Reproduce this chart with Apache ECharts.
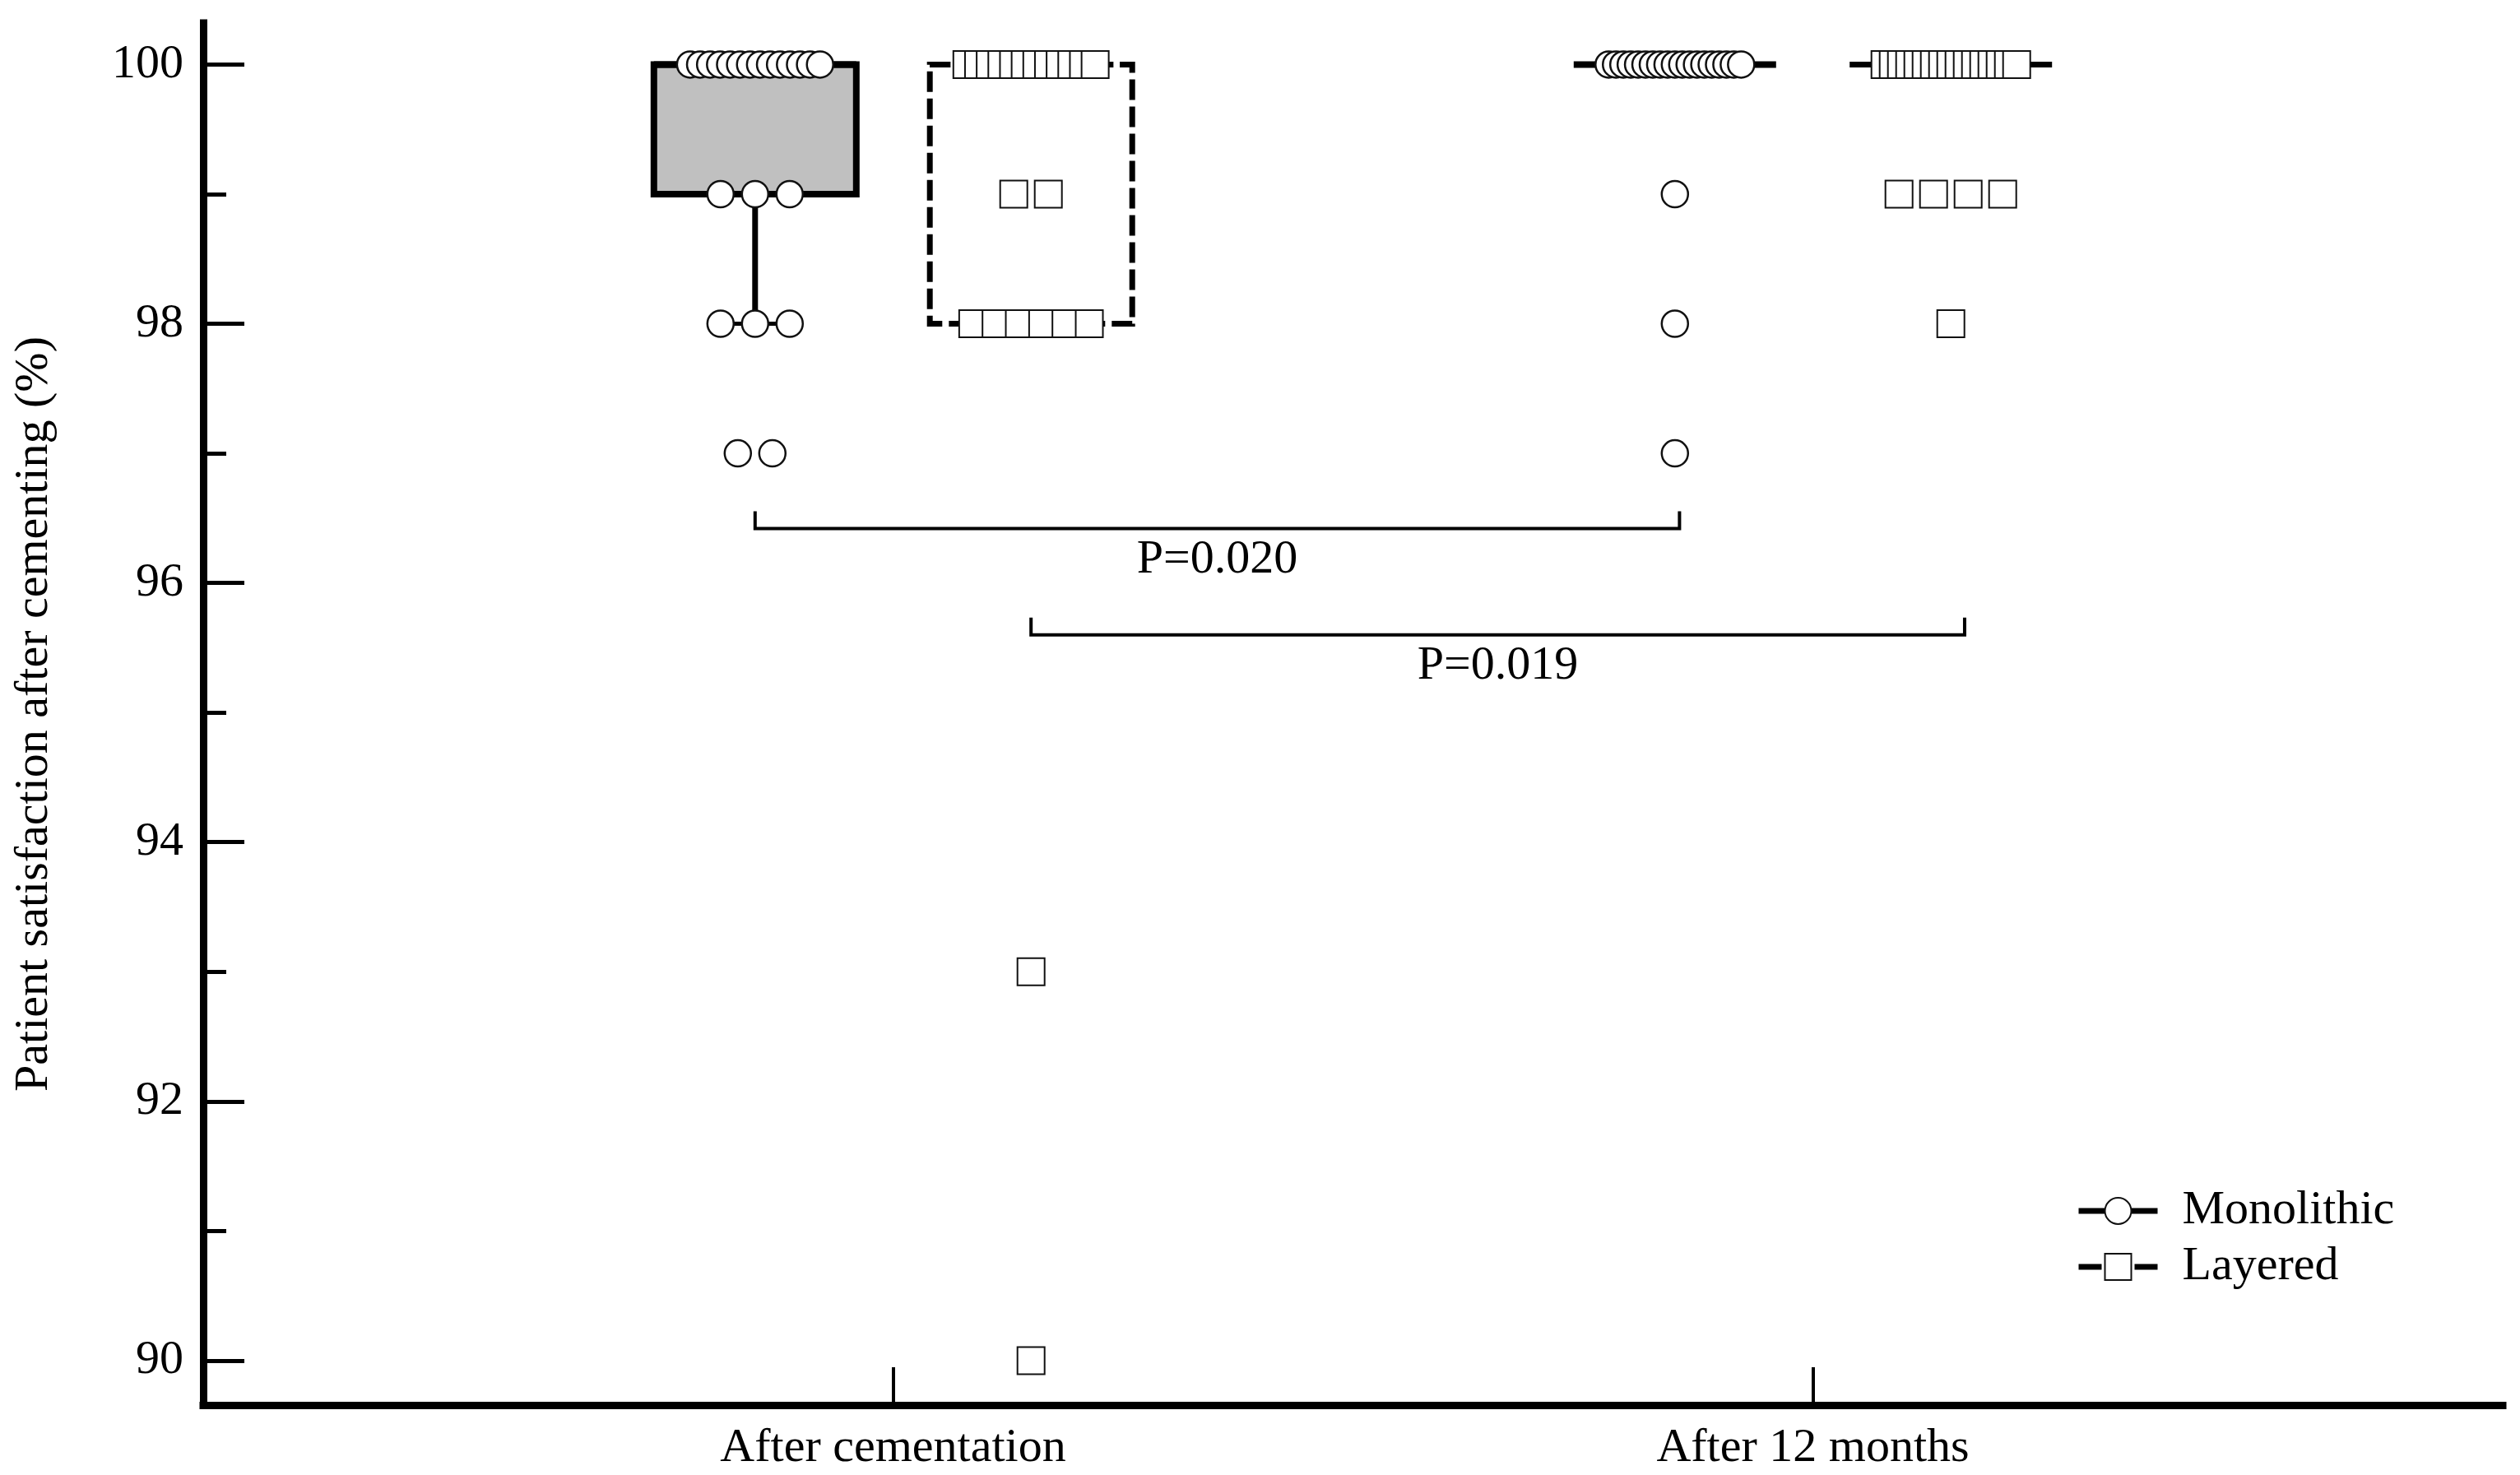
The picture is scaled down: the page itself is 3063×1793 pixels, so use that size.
<!DOCTYPE html>
<html>
<head>
<meta charset="utf-8">
<script src="https://cdn.jsdelivr.net/npm/echarts@6/dist/echarts.min.js"></script>
<style>
html, body { margin: 0; padding: 0; background: #fff; }
#chart { width: 3063px; height: 1793px; }
</style>
</head>
<body>
<div id="chart"></div>
<script>
var timePoints = ['After cementation', 'After 12 months'];
var groupNames = ['Monolithic', 'Layered'];
var groupOffset = [-0.15, 0.15];

// [lower whisker, Q1, median, Q3, upper whisker] for each time point
var monolithicBox = [[98, 99, 100, 100, 100], [100, 100, 100, 100, 100]];
var layeredBox = [[98, 98, 100, 100, 100], [100, 100, 100, 100, 100]];

// individual scores (value, number of patients with that value)
var monoCemScores = [100, 99, 98, 97];
var monoCemCounts = [14, 3, 3, 2];
var monoYearScores = [100, 99, 98, 97];
var monoYearCounts = [19, 1, 1, 1];
var layerCemScores = [100, 99, 98, 93, 90];
var layerCemCounts = [12, 2, 6, 1, 1];
var layerYearScores = [100, 99, 98];
var layerYearCounts = [17, 4, 1];

var yTicks = [90, 92, 94, 96, 98, 100];
var yMinorTicks = [91, 93, 95, 97, 99];

// significance brackets
var pLabels = ['P=0.020', 'P=0.019'];
var pLevels = [96.42, 95.6];
var pStart = [0.85, 1.15];
var pEnd = [1.855, 2.165];

var FONT = 'Liberation Serif';

// spread equal scores side by side (beeswarm-like)
function swarm(t, g, scores, counts) {
  var out = [];
  scores.forEach(function (s, k) {
    var n = counts[k];
    var step = Math.min(42, 170 / n);
    for (var i = 0; i < n; i++) {
      out.push({
        value: [t + 1 + groupOffset[g], s],
        symbolOffset: [(i - (n - 1) / 2) * step, 0]
      });
    }
  });
  return out;
}

function boxSeries(boxes, g, width, dashed, fill) {
  var dash = dashed ? [25, 8] : null;
  return {
    type: 'custom',
    name: groupNames[g] + ' box',
    z: 2,
    encode: { x: 0, y: [1, 2, 3, 4, 5] },
    data: boxes.map(function (b, t) { return [t + 1 + groupOffset[g]].concat(b); }),
    renderItem: function (params, api) {
      var x = api.value(0);
      var low = api.coord([x, api.value(1)]);
      var q1 = api.coord([x, api.value(2)]);
      var med = api.coord([x, api.value(3)]);
      var q3 = api.coord([x, api.value(4)]);
      var high = api.coord([x, api.value(5)]);
      var half = 123, cap = 42;
      var hasBox = q1[1] - q3[1] > 1;
      var kids = [];
      if (low[1] - q1[1] > 1) {
        kids.push({ type: 'line', shape: { x1: q1[0], y1: q1[1], x2: q1[0], y2: low[1] }, style: { stroke: '#000', lineWidth: 7 } });
        kids.push({ type: 'line', shape: { x1: low[0] - cap, y1: low[1], x2: low[0] + cap, y2: low[1] }, style: { stroke: '#000', lineWidth: 5 } });
      }
      if (q3[1] - high[1] > 1) {
        kids.push({ type: 'line', shape: { x1: q3[0], y1: q3[1], x2: q3[0], y2: high[1] }, style: { stroke: '#000', lineWidth: 7 } });
        kids.push({ type: 'line', shape: { x1: high[0] - cap, y1: high[1], x2: high[0] + cap, y2: high[1] }, style: { stroke: '#000', lineWidth: 5 } });
      }
      if (hasBox) {
        kids.push({ type: 'rect', shape: { x: q1[0] - half, y: q3[1], width: half * 2, height: q1[1] - q3[1] },
          style: { fill: fill, stroke: '#000', lineWidth: width, lineDash: dash } });
      }
      kids.push({ type: 'line', shape: { x1: med[0] - half, y1: med[1], x2: med[0] + half, y2: med[1] },
        style: { stroke: '#000', lineWidth: width, lineDash: hasBox ? dash : null } });
      return { type: 'group', children: kids };
    }
  };
}

function pointSeries(name, symbol, size, border, data) {
  return {
    type: 'scatter',
    name: name,
    z: 5,
    symbol: symbol,
    symbolSize: size,
    itemStyle: { color: '#fff', borderColor: '#111', borderWidth: border, opacity: 1 },
    data: data
  };
}

var chart = echarts.init(document.getElementById('chart'));

var option = {
  animation: false,
  backgroundColor: '#fff',
  grid: { left: 247, right: 21, top: 28, bottom: 85, containLabel: false },
  legend: {
    orient: 'vertical',
    left: 2518,
    top: 1438,
    itemWidth: 96,
    itemHeight: 40,
    itemGap: 10,
    selectedMode: false,
    data: [
      { name: groupNames[0], lineStyle: { color: '#000', width: 7, type: 'solid' } },
      { name: groupNames[1], lineStyle: { color: '#000', width: 7, type: [28, 40] } }
    ],
    textStyle: { fontFamily: FONT, fontSize: 58, color: '#000', lineHeight: 58, padding: [0, 0, 0, 25] }
  },
  xAxis: {
    type: 'value',
    min: 0.25,
    max: 2.75,
    splitLine: { show: false },
    axisLine: { show: true, onZero: false, lineStyle: { color: '#000', width: 9, cap: 'square' } },
    axisTick: { show: true, inside: true, length: 46, customValues: [1, 2], lineStyle: { color: '#000', width: 4 } },
    axisLabel: {
      customValues: [1, 2],
      formatter: function (v) { return timePoints[Math.round(v) - 1]; },
      fontFamily: FONT, fontSize: 58, color: '#000', margin: 24
    }
  },
  yAxis: [{
    type: 'value',
    min: 89.657,
    max: 100.32,
    name: 'Patient satisfaction after cementing (%)',
    nameLocation: 'middle',
    nameGap: 176,
    nameTextStyle: { fontFamily: FONT, fontSize: 58, color: '#000' },
    splitLine: { show: false },
    axisLine: { show: true, onZero: false, lineStyle: { color: '#000', width: 9, cap: 'square' } },
    axisTick: { show: true, inside: true, length: 50, customValues: yTicks, lineStyle: { color: '#000', width: 5 } },
    axisLabel: { customValues: yTicks, fontFamily: FONT, fontSize: 58, color: '#000', margin: 24 }
  }, {
    type: 'value',
    position: 'left',
    min: 89.657,
    max: 100.32,
    splitLine: { show: false },
    axisLine: { show: false },
    axisTick: { show: true, inside: true, length: 28, customValues: yMinorTicks, lineStyle: { color: '#000', width: 5 } },
    axisLabel: { show: false }
  }],
  series: [
    boxSeries(monolithicBox, 0, 8, false, '#c0c0c0'),
    boxSeries(layeredBox, 1, 7, true, '#fff'),
    pointSeries('Monolithic scores', 'circle', 32, 2.5,
      swarm(0, 0, monoCemScores, monoCemCounts).concat(swarm(1, 0, monoYearScores, monoYearCounts))),
    pointSeries('Layered scores', 'rect', 33, 2,
      swarm(0, 1, layerCemScores, layerCemCounts).concat(swarm(1, 1, layerYearScores, layerYearCounts))),
    {
      type: 'custom',
      name: 'brackets',
      z: 3,
      encode: { x: [0, 1], y: 2 },
      data: pLevels.map(function (y, i) { return [pStart[i], pEnd[i], y]; }),
      renderItem: function (params, api) {
        var a = api.coord([api.value(0), api.value(2)]);
        var b = api.coord([api.value(1), api.value(2)]);
        return {
          type: 'group',
          children: [{
            type: 'polyline',
            shape: { points: [[a[0], a[1] - 21], a, b, [b[0], b[1] - 21]] },
            style: { stroke: '#000', lineWidth: 4, fill: null }
          }, {
            type: 'text',
            style: {
              text: pLabels[params.dataIndex],
              x: (a[0] + b[0]) / 2, y: a[1] + 38,
              align: 'center', verticalAlign: 'middle',
              fontFamily: FONT, fontSize: 58, fill: '#000'
            }
          }]
        };
      }
    },
    {
      type: 'line', name: 'Monolithic', data: [],
      symbol: 'circle',
      lineStyle: { color: '#000', width: 7 },
      itemStyle: { color: '#fff', borderColor: '#111', borderWidth: 2.5 }
    },
    {
      type: 'line', name: 'Layered', data: [],
      symbol: 'rect',
      lineStyle: { color: '#000', width: 7, type: [28, 40] },
      itemStyle: { color: '#fff', borderColor: '#111', borderWidth: 2 }
    }
  ]
};

chart.setOption(option);
</script>
</body>
</html>
